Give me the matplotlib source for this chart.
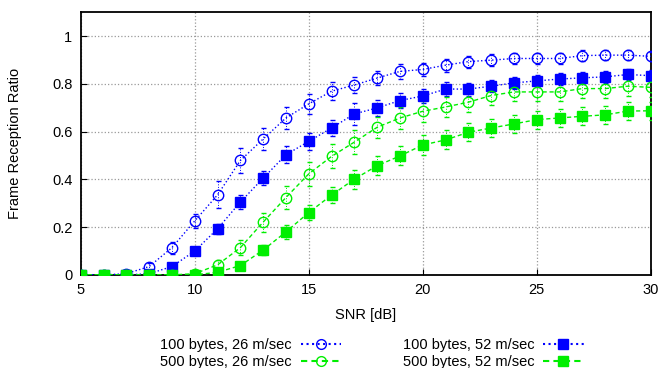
import numpy as np
import matplotlib
matplotlib.use("Agg")
import matplotlib.pyplot as plt
from matplotlib.lines import Line2D

plt.rcParams['font.family'] = ['Liberation Sans', 'DejaVu Sans']

# data
snr = list(range(5, 31))

b26 = [0, 0, 0.005, 0.035, 0.114, 0.226, 0.335, 0.479, 0.569, 0.657, 0.716, 0.769, 0.795,
       0.824, 0.852, 0.86, 0.878, 0.893, 0.899, 0.906, 0.906, 0.906, 0.918, 0.92, 0.92, 0.915]
b26_err = [0, 0, 0.005, 0.015, 0.025, 0.03, 0.056, 0.054, 0.045, 0.045, 0.042, 0.038, 0.035,
           0.03, 0.03, 0.028, 0.027, 0.025, 0.025, 0.024, 0.022, 0.022, 0.022, 0.02, 0.02, 0.02]

b52 = [0, 0, 0, 0.005, 0.035, 0.1, 0.193, 0.305, 0.405, 0.503, 0.559, 0.615, 0.674,
       0.699, 0.73, 0.749, 0.778, 0.778, 0.79, 0.804, 0.812, 0.82, 0.825, 0.829, 0.839, 0.834]
b52_err = [0, 0, 0, 0.005, 0.01, 0.015, 0.02, 0.03, 0.028, 0.035, 0.035, 0.035, 0.045,
           0.035, 0.03, 0.03, 0.028, 0.027, 0.026, 0.025, 0.025, 0.025, 0.025, 0.024, 0.024, 0.024]

g26 = [0, 0, 0, 0, 0, 0.005, 0.042, 0.114, 0.221, 0.324, 0.423, 0.496, 0.556,
       0.618, 0.657, 0.685, 0.703, 0.723, 0.751, 0.766, 0.766, 0.766, 0.78, 0.78, 0.79, 0.785]
g26_err = [0, 0, 0, 0, 0, 0.005, 0.02, 0.03, 0.04, 0.05, 0.05, 0.05, 0.05,
           0.045, 0.045, 0.045, 0.042, 0.04, 0.04, 0.04, 0.04, 0.04, 0.04, 0.04, 0.04, 0.04]

g52 = [0, 0, 0, 0, 0, 0, 0.011, 0.039, 0.104, 0.18, 0.261, 0.334, 0.401,
       0.457, 0.498, 0.544, 0.565, 0.597, 0.615, 0.632, 0.65, 0.657, 0.664, 0.67, 0.686, 0.687]
g52_err = [0, 0, 0, 0, 0, 0, 0.005, 0.01, 0.02, 0.03, 0.03, 0.035, 0.04,
           0.04, 0.04, 0.04, 0.04, 0.038, 0.038, 0.038, 0.038, 0.038, 0.038, 0.038, 0.038, 0.038]

labels = ['100 bytes, 26 m/sec', '100 bytes, 52 m/sec',
          '500 bytes, 26 m/sec', '500 bytes, 52 m/sec']

blue = '#0000ff'
green = '#00ee00'

fig = plt.figure(figsize=(6.62, 3.68), dpi=100)
ax = fig.add_axes([0.122, 0.253, 0.861, 0.714])


def draw(y, err, color, ls, marker, filled):
    fc = color if filled else 'none'
    ms = 7 if filled else 7.5
    ln, caps, bars = ax.errorbar(snr, y, yerr=err, color=color, ls=ls, lw=1.0,
                                 marker=marker, ms=ms, mfc=fc, mec=color, mew=1.0,
                                 ecolor=color, elinewidth=0.7, capsize=1.8, capthick=0.7,
                                 zorder=3)
    for b in bars:
        b.set_linestyle(':')
    return ln


draw(b26, b26_err, blue, ':', 'o', False)
draw(b52, b52_err, blue, ':', 's', True)
draw(g26, g26_err, green, (0, (3, 2)), 'o', False)
draw(g52, g52_err, green, (0, (3, 2)), 's', True)

ax.set_xlim(5, 30)
ax.set_ylim(0, 1.1)
ax.set_xticks([5, 10, 15, 20, 25, 30])
ax.set_yticks([0, 0.2, 0.4, 0.6, 0.8, 1.0])
ax.set_yticklabels(['0', '0.2', '0.4', '0.6', '0.8', '1'])
ax.grid(True, color='#999999', ls=':', lw=0.9)
ax.set_axisbelow(True)
for s in ax.spines.values():
    s.set_linewidth(1.3)
ax.tick_params(direction='in', length=4, labelsize=10.5, pad=6)
ax.set_xlabel('SNR [dB]', fontsize=10.5, labelpad=8)
ax.set_ylabel('Frame Reception Ratio', fontsize=10.5, labelpad=22)

handles = [
    Line2D([], [], color=blue, ls=':', marker='o', mfc='none', mec=blue, ms=7),
    Line2D([], [], color=blue, ls=':', marker='s', mfc=blue, mec=blue, ms=6.5),
    Line2D([], [], color=green, ls=(0, (3, 2)), marker='o', mfc='none', mec=green, ms=7),
    Line2D([], [], color=green, ls=(0, (3, 2)), marker='s', mfc=green, mec=green, ms=6.5),
]
# column-major order: col1 = 26 m/sec, col2 = 52 m/sec
order = [0, 2, 1, 3]
fig.legend([handles[i] for i in order], [labels[i] for i in order],
           ncol=2, loc='upper center', bbox_to_anchor=(0.562, 0.1), frameon=False,
           markerfirst=False, fontsize=10.5, handlelength=2.8, handletextpad=0.6,
           columnspacing=4.2, labelspacing=0.15, borderpad=0)

fig.savefig('out.png', dpi=100)
